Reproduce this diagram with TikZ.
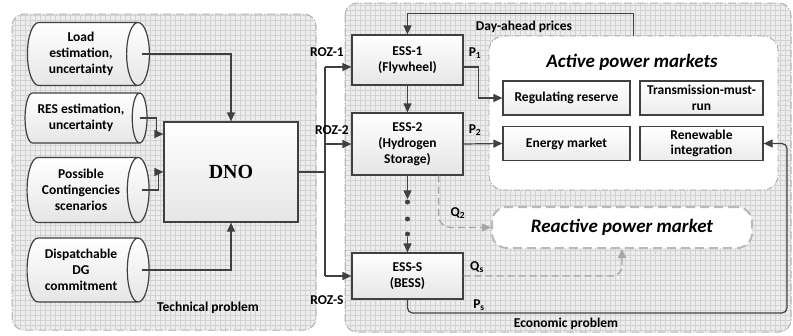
\documentclass[tikz,border=0pt]{standalone}
\usepackage{fontspec}
\setmainfont{Carlito}
\newfontfamily\dnofont{Liberation Serif}
\usetikzlibrary{arrows.meta,positioning,shapes.geometric,calc}
\definecolor{edgegray}{HTML}{404040}
\definecolor{panelgray}{HTML}{EDEDED}
\definecolor{gridgray}{HTML}{D2D2D2}
\tikzset{
  panel/.style={draw=gray!60, rounded corners=12pt, line width=1pt, dash pattern=on 8pt off 2pt on 1pt off 2pt},
  source/.style={draw=edgegray, cylinder, shape border rotate=0, aspect=0.5, line width=1.2pt, top color=white, bottom color=gray!20, align=center, font=\fontsize{13.5}{16}\selectfont\bfseries, minimum height=122pt, inner sep=1pt},
  ess/.style={draw=edgegray, line width=1.2pt, top color=white, bottom color=gray!20, align=center, font=\fontsize{13.5}{16}\selectfont\bfseries, minimum width=111pt, inner sep=1pt},
  mkt/.style={draw=edgegray, line width=1.2pt, top color=white, bottom color=gray!15, align=center, font=\fontsize{13.5}{15.5}\selectfont\bfseries, minimum height=34pt, inner sep=1pt},
  lbl/.style={font=\fontsize{13.5}{15}\selectfont\bfseries, inner sep=1pt},
  title/.style={font=\fontsize{19}{22}\selectfont\bfseries\itshape},
  dot/.style={circle, fill=edgegray, inner sep=0pt, minimum size=5pt},
  arrow/.style={-{Triangle[length=9pt,width=8pt]}, line width=1.2pt, draw=edgegray},
  line/.style={line width=1.2pt, draw=edgegray},
  qarrow/.style={-{Triangle[length=9pt,width=8pt]}, line width=1.3pt, draw=gray!70, dash pattern=on 7pt off 4pt}
}
\begin{document}
\begin{tikzpicture}[x=1pt, y=-1pt]
  \useasboundingbox (0,0) rectangle (793,335);
  % panels with grid
  \foreach \ax/\ay/\bx/\by in {12/14/316/330, 345/3/791/332} {
    \fill[panelgray, rounded corners=12pt] (\ax,\ay) rectangle (\bx,\by);
    \begin{scope}
      \clip[rounded corners=12pt] (\ax,\ay) rectangle (\bx,\by);
      \draw[gridgray, line width=0.3pt, step=5pt] (\ax,\ay) grid (\bx,\by);
    \end{scope}
    \draw[panel] (\ax,\ay) rectangle (\bx,\by);
  }
  \node[lbl] (tech) at (208,308) {Technical problem};
  \node[lbl] (econ) at (566,324) {Economic problem};

  \node[source, minimum width=63pt] (load) at (81,54) {Load\\estimation,\\uncertainty};
  \node[source, minimum width=50pt] (res) at (81,118) {RES estimation,\\uncertainty};
  \node[source, minimum width=65pt] (cont) at (81,190) {Possible\\Contingencies\\scenarios};
  \node[source, minimum width=64pt] (dg) at (81,270) {Dispatchable\\DG\\commitment};
  \node[ess, minimum width=134pt, minimum height=100pt, font=\dnofont\fontsize{20}{24}\selectfont\bfseries] (dno) at (231,172) {DNO};

  \draw[arrow] ([xshift=-8pt]load.east) -| (dno.north);
  \draw[arrow] ([xshift=-8pt]res.east) -- ++(17,0) |- ([yshift=38pt]dno.west);
  \draw[arrow] ([xshift=-8pt]cont.east) -- ++(17,0) |- (dno.west);
  \draw[arrow] ([xshift=-8pt]dg.east) -| (dno.south);

  \node[ess, minimum height=50pt] (ess1) at (407.5,60) {ESS-1\\(Flywheel)};
  \node[ess, minimum height=62pt] (ess2) at (407.5,144) {ESS-2\\(Hydrogen\\Storage)};
  \node[ess, minimum height=46pt] (esss) at (407.5,276) {ESS-S\\(BESS)};
  \node[dot] (d1) at (407.5,202) {};
  \node[dot] (d2) at (407.5,219) {};
  \node[dot] (d3) at (407.5,234) {};

  \coordinate (bus) at (325,172);
  \coordinate (roz1) at (325,67);
  \coordinate (roz2) at (325,144);
  \coordinate (rozs) at (325,276);
  \draw[line] (dno.east) -- (bus);
  \draw[line] (roz1) -- (rozs);
  \draw[arrow] (roz1) -- (roz1 -| ess1.west);
  \draw[arrow] (roz2) -- (ess2.west);
  \draw[arrow] (rozs) -- (esss.west);
  \node[lbl] at (327,52) {ROZ-1};
  \node[lbl] at (332,130) {ROZ-2};
  \node[lbl] at (327,300) {ROZ-S};

  \draw[arrow] (ess1.south) -- (ess2.north);
  \draw[arrow] (ess2.south) -- (d1);
  \draw[arrow] (d3) -- (esss.north);

  % markets
  \node[draw=gray!70, rounded corners=15pt, fill=white, line width=0.8pt, dash pattern=on 6pt off 2pt on 1pt off 2pt, minimum width=289pt, minimum height=154pt] (act) at (633.5,113) {};
  \node[title] (acttitle) at (632,62) {Active power markets};
  \node[mkt, minimum width=127pt] (regres) at (566.5,98) {Regulating reserve};
  \node[mkt, minimum width=123pt] (tmr) at (701.5,98) {Transmission-must-\\run};
  \node[mkt, minimum width=127pt] (energy) at (566.5,143.5) {Energy market};
  \node[mkt, minimum width=123pt] (renew) at (701.5,143.5) {Renewable\\integration};
  \node[draw=gray!55, rounded corners=15pt, fill=white, line width=2pt, dash pattern=on 9pt off 5pt, minimum width=260pt, minimum height=41pt, title] (react) at (622,227.5) {Reactive power market};

  \draw[arrow] (act.north) -- ++(0,-22) -| (ess1.north);
  \node[lbl] at (524,27) {Day-ahead prices};
  \draw[arrow] (roz1 -| ess1.east) -- ++(15,0) |- (regres.west);
  \draw[arrow] (ess2.east) -- (energy.west);
  \draw[qarrow, rounded corners=12pt] ([xshift=-25pt]ess2.south east) |- (react.west);
  \draw[qarrow, rounded corners=10pt] (esss.east) -| (react.south);
  \draw[arrow, rounded corners=5pt] (esss.south) |- (787,313) |- (renew.east);
  \node[lbl] at (475,53) {P\textsubscript{1}};
  \node[lbl] at (475,130) {P\textsubscript{2}};
  \node[lbl] at (458,213) {Q\textsubscript{2}};
  \node[lbl] at (477,267) {Q\textsubscript{s}};
  \node[lbl] at (479,305) {P\textsubscript{s}};
\end{tikzpicture}
\end{document}
